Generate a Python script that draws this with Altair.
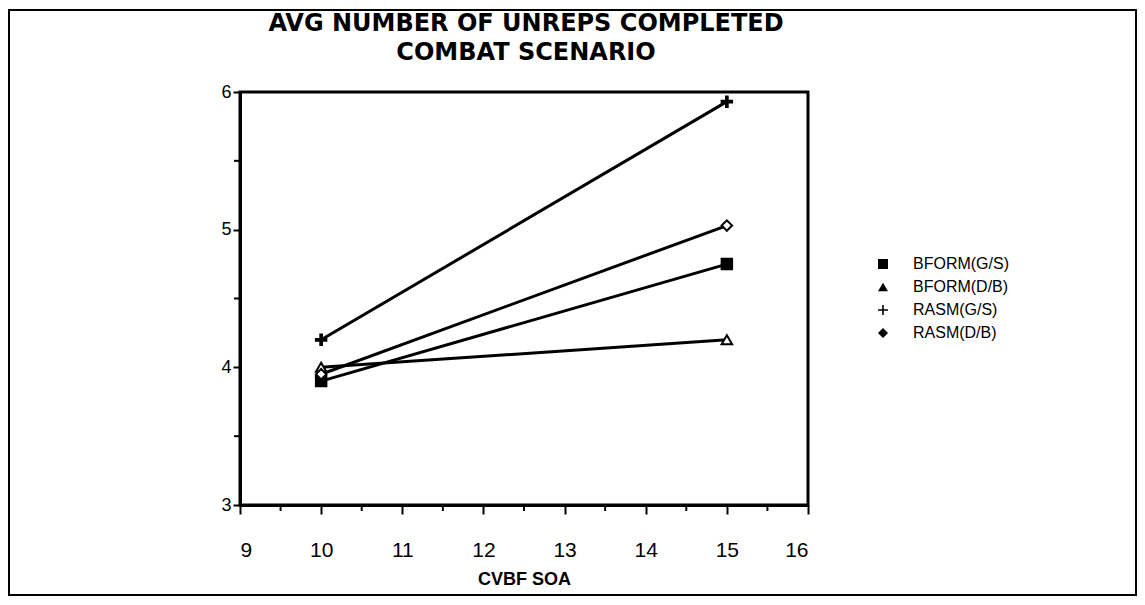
import altair as alt
import pandas as pd

title_lines = ["AVG NUMBER OF UNREPS COMPLETED", "COMBAT SCENARIO"]
series = ["BFORM(G/S)", "BFORM(D/B)", "RASM(G/S)", "RASM(D/B)"]
soa = [10, 15]
bform_gs = [3.90, 4.75]
bform_db = [4.00, 4.20]
rasm_gs = [4.20, 5.93]
rasm_db = [3.95, 5.03]
values = {"BFORM(G/S)": bform_gs, "BFORM(D/B)": bform_db, "RASM(G/S)": rasm_gs, "RASM(D/B)": rasm_db}
major_x = [9, 10, 11, 12, 13, 14, 15, 16]
minor_x = [9.5, 10.5, 11.5, 12.5, 13.5, 14.5, 15.5]
major_y = [3, 4, 5, 6]
minor_y = [3.5, 4.5, 5.5]

rows = []
for s in series:
    for x, y in zip(soa, values[s]):
        rows.append({"series": s, "shp": s, "soa": x, "val": y})
df = pd.DataFrame(rows)

FONT = "Liberation Sans"
W, H = 568, 413

xs = alt.Scale(domain=[9, 16], nice=False, zero=False)
ys = alt.Scale(domain=[3, 6], nice=False, zero=False)

x_axis = alt.Axis(values=major_x, title="CVBF SOA", grid=False, tickSize=9,
                  labelFontSize=21, labelPadding=25, titleFontSize=18,
                  titleFontWeight="bold", titlePadding=10, domainWidth=3,
                  tickWidth=2, labelFont=FONT, titleFont=FONT,
                  domainColor="black", tickColor="black", labelColor="black",
                  titleColor="black")
y_axis = alt.Axis(values=major_y, title=None, grid=False, tickSize=7,
                  labelFontSize=18, labelPadding=2, domainWidth=3, tickWidth=2,
                  labelFont=FONT, domainColor="black", tickColor="black",
                  labelColor="black")

plus = "M-0.16,-1H0.16V-0.16H1V0.16H0.16V1H-0.16V0.16H-1V-0.16H-0.16Z"
shape_range = ["square", "triangle-up", plus, "diamond"]
fill_scale = alt.Scale(domain=series, range=["black", "white", "black", "white"])

base = alt.Chart(df)

lines = base.mark_line(color="black", strokeWidth=3).encode(
    x=alt.X("soa:Q", scale=xs, axis=x_axis),
    y=alt.Y("val:Q", scale=ys, axis=y_axis),
    detail="series:N",
)

points = base.mark_point(size=110, strokeWidth=2, opacity=1, filled=False).encode(
    x=alt.X("soa:Q", scale=xs, axis=x_axis),
    y=alt.Y("val:Q", scale=ys, axis=y_axis),
    shape=alt.Shape("shp:N", scale=alt.Scale(domain=series, range=shape_range), legend=None),
    fill=alt.Fill("shp:N", scale=fill_scale, legend=None),
    stroke=alt.value("black"),
)

legend_layer = base.transform_filter("false").mark_point(
    size=100, filled=False, fill="black", stroke="black", strokeWidth=2, opacity=1
).encode(
    x=alt.X("soa:Q", scale=xs, axis=x_axis),
    y=alt.Y("val:Q", scale=ys, axis=y_axis),
    shape=alt.Shape("series:N", scale=alt.Scale(domain=series, range=shape_range),
                    sort=series,
                    legend=alt.Legend(title=None, orient="none", legendX=635, legendY=164,
                                      labelFontSize=16, labelFont=FONT, labelColor="black",
                                      symbolSize=100, symbolFillColor="black",
                                      symbolStrokeColor="black", symbolStrokeWidth=2,
                                      rowPadding=5, labelOffset=22)),
)

minor_df = pd.DataFrame({"mx": minor_x})
minor_xt = alt.Chart(minor_df).mark_rule(color="black", strokeWidth=2).encode(
    x=alt.X("mx:Q", scale=xs, axis=x_axis),
    y=alt.value(H), y2=alt.value(H + 6),
)
minor_ydf = pd.DataFrame({"my": minor_y})
minor_yt = alt.Chart(minor_ydf).mark_rule(color="black", strokeWidth=2).encode(
    y=alt.Y("my:Q", scale=ys, axis=y_axis),
    x=alt.value(0), x2=alt.value(-6),
)

frame_df = pd.DataFrame({"k": [0]})
frame = alt.Chart(frame_df).mark_rect(fill=None, stroke="black", strokeWidth=2).encode(
    x=alt.value(-231), x2=alt.value(896), y=alt.value(-82), y2=alt.value(503),
)

title1 = alt.Chart(frame_df).mark_text(
    text=title_lines[0], font="DejaVu Sans", fontSize=24, fontWeight="bold",
    color="black", align="center", baseline="alphabetic"
).encode(x=alt.value(W / 2 + 2), y=alt.value(-61))
title2 = alt.Chart(frame_df).mark_text(
    text=title_lines[1], font="DejaVu Sans", fontSize=24, fontWeight="bold",
    color="black", align="center", baseline="alphabetic"
).encode(x=alt.value(W / 2 + 2), y=alt.value(-32))

chart = alt.layer(frame, title1, title2, lines, points, legend_layer, minor_xt, minor_yt).resolve_scale(
    shape="independent", fill="independent"
).properties(
    width=W, height=H,
    autosize="none",
    padding={"left": 232, "top": 84, "right": 329, "bottom": 92},
).configure(background="white").configure_view(stroke="black", strokeWidth=3)

chart.save("out.html", embed_options={"renderer": "svg", "actions": False})
